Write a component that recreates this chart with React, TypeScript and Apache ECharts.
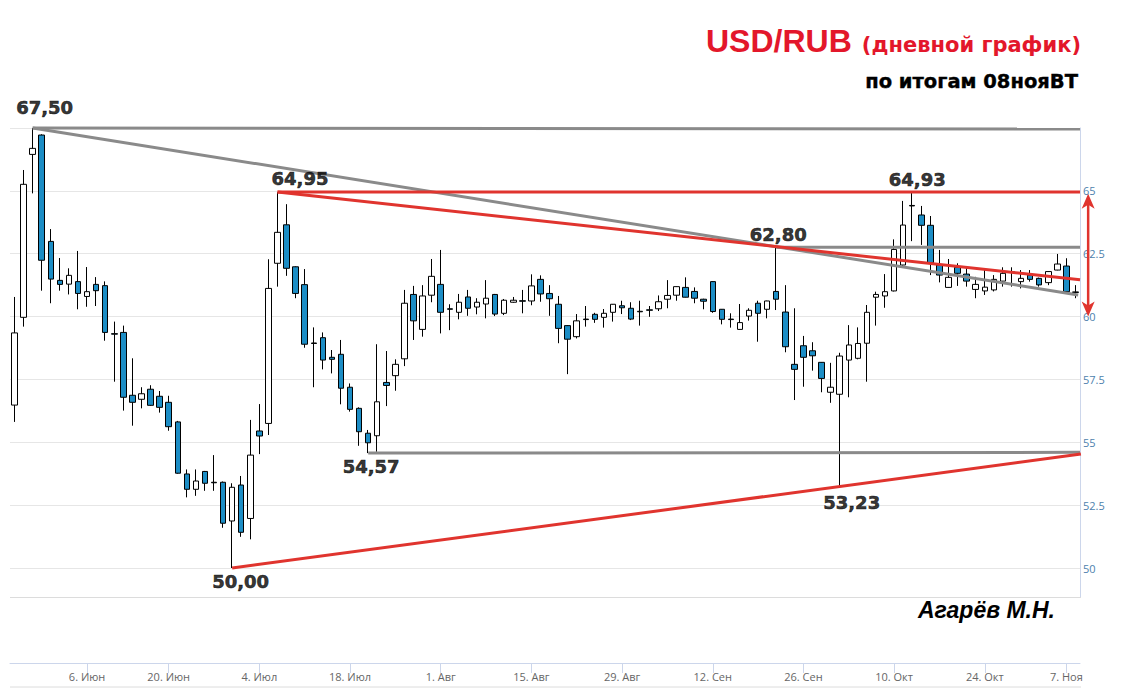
import React, { useEffect, useRef } from "react";
import * as echarts from "echarts";

// Trading days (MOEX), 25 May 2022 – 8 Nov 2022
const dates: string[] = [
  "2022-05-25", "2022-05-26", "2022-05-27", "2022-05-30", "2022-05-31",
  "2022-06-01", "2022-06-02", "2022-06-03", "2022-06-06", "2022-06-07", "2022-06-08", "2022-06-09", "2022-06-10",
  "2022-06-14", "2022-06-15", "2022-06-16", "2022-06-17", "2022-06-20", "2022-06-21", "2022-06-22", "2022-06-23",
  "2022-06-24", "2022-06-27", "2022-06-28", "2022-06-29", "2022-06-30",
  "2022-07-01", "2022-07-04", "2022-07-05", "2022-07-06", "2022-07-07", "2022-07-08", "2022-07-11", "2022-07-12",
  "2022-07-13", "2022-07-14", "2022-07-15", "2022-07-18", "2022-07-19", "2022-07-20", "2022-07-21", "2022-07-22",
  "2022-07-25", "2022-07-26", "2022-07-27", "2022-07-28", "2022-07-29",
  "2022-08-01", "2022-08-02", "2022-08-03", "2022-08-04", "2022-08-05", "2022-08-08", "2022-08-09", "2022-08-10",
  "2022-08-11", "2022-08-12", "2022-08-15", "2022-08-16", "2022-08-17", "2022-08-18", "2022-08-19", "2022-08-22",
  "2022-08-23", "2022-08-24", "2022-08-25", "2022-08-26", "2022-08-29", "2022-08-30", "2022-08-31",
  "2022-09-01", "2022-09-02", "2022-09-05", "2022-09-06", "2022-09-07", "2022-09-08", "2022-09-09", "2022-09-12",
  "2022-09-13", "2022-09-14", "2022-09-15", "2022-09-16", "2022-09-19", "2022-09-20", "2022-09-21", "2022-09-22",
  "2022-09-23", "2022-09-26", "2022-09-27", "2022-09-28", "2022-09-29", "2022-09-30",
  "2022-10-03", "2022-10-04", "2022-10-05", "2022-10-06", "2022-10-07", "2022-10-10", "2022-10-11", "2022-10-12",
  "2022-10-13", "2022-10-14", "2022-10-17", "2022-10-18", "2022-10-19", "2022-10-20", "2022-10-21", "2022-10-24",
  "2022-10-25", "2022-10-26", "2022-10-27", "2022-10-28", "2022-10-31",
  "2022-11-01", "2022-11-02", "2022-11-03", "2022-11-07", "2022-11-08",
];

const tickDates: string[] = [
  "2022-06-06", "2022-06-20", "2022-07-04", "2022-07-18", "2022-08-01", "2022-08-15",
  "2022-08-29", "2022-09-12", "2022-09-26", "2022-10-10", "2022-10-24", "2022-11-07",
];
const monthNames: string[] = ["Янв", "Фев", "Мар", "Апр", "Май", "Июн", "Июл", "Авг", "Сен", "Окт", "Ноя", "Дек"];

// [open, close, low, high]
const candles: number[][] = [
  [56.48, 59.35, 55.81, 60.78], [59.97, 65.26, 59.6, 65.83], [66.45, 66.69, 64.9, 67.5], [67.22, 62.24, 61.03, 67.25],
  [62.99, 61.49, 60.53, 63.48], [61.44, 61.28, 61.03, 62.33], [61.29, 61.64, 60.88, 61.92], [61.39, 60.92, 60.29, 62.61],
  [60.8, 60.99, 60.39, 61.97], [61.28, 61.03, 60.42, 61.57], [61.23, 59.37, 59.04, 61.4], [59.32, 59.3, 57.41, 59.8],
  [59.37, 56.79, 56.26, 59.64], [56.87, 56.59, 55.66, 58.34], [56.71, 56.93, 56.35, 57.19], [57.11, 56.47, 56.45, 57.27],
  [56.83, 56.39, 56.18, 57.04], [56.59, 55.62, 55.46, 56.85], [55.81, 53.77, 53.75, 55.85], [53.74, 53.13, 52.81, 53.92],
  [53.13, 53.46, 52.87, 53.92], [53.84, 53.37, 53.07, 53.86], [53.41, 53.39, 53.07, 54.49], [53.41, 51.78, 51.6, 53.44],
  [51.87, 53.21, 50.0, 53.37], [53.3, 51.42, 51.24, 53.66], [51.97, 54.49, 51.14, 55.89], [55.45, 55.25, 54.53, 56.52],
  [55.75, 61.12, 55.29, 62.28], [62.12, 63.35, 61.19, 64.95], [63.65, 61.92, 61.62, 64.47], [61.98, 60.92, 60.73, 62.0],
  [61.27, 58.9, 58.76, 61.89], [58.95, 58.93, 57.19, 59.57], [59.16, 58.27, 57.9, 59.37], [58.38, 58.3, 57.74, 58.67],
  [58.5, 57.15, 56.51, 59.07], [57.19, 56.31, 56.22, 57.34], [56.35, 55.42, 54.86, 56.39], [55.36, 54.98, 54.57, 55.49],
  [55.26, 56.61, 54.62, 58.9], [57.38, 57.26, 56.44, 58.63], [57.65, 58.1, 57.05, 58.3], [58.32, 60.53, 58.03, 61.06],
  [60.88, 59.83, 59.07, 61.22], [59.49, 60.82, 59.2, 61.25], [60.85, 61.6, 60.57, 62.29], [61.28, 60.17, 59.33, 62.65],
  [60.31, 60.29, 59.46, 60.49], [60.17, 60.57, 59.89, 60.9], [60.78, 60.33, 60.03, 61.06], [60.38, 60.57, 60.09, 60.73],
  [60.5, 60.73, 59.93, 61.45], [60.88, 60.1, 60.02, 60.9], [60.13, 60.65, 60.06, 60.7], [60.57, 60.65, 60.55, 60.78],
  [60.63, 60.61, 60.13, 61.06], [60.62, 61.22, 60.45, 61.68], [61.48, 60.9, 60.59, 61.64], [60.92, 60.71, 60.03, 61.25],
  [60.49, 59.53, 58.94, 60.82], [59.64, 59.1, 57.71, 59.66], [59.2, 59.83, 59.13, 60.1], [59.9, 59.88, 59.6, 60.42],
  [60.09, 59.89, 59.75, 60.15], [59.97, 60.13, 59.56, 60.3], [60.17, 60.49, 59.8, 60.5], [60.43, 60.35, 60.1, 60.63],
  [60.33, 59.9, 59.86, 60.57], [60.21, 60.19, 59.64, 60.63], [60.27, 60.25, 59.99, 60.42], [60.31, 60.59, 60.22, 60.84],
  [60.69, 60.84, 60.33, 61.45], [60.85, 61.19, 60.63, 61.2], [61.16, 60.77, 60.76, 61.56], [61.0, 60.73, 60.53, 61.16],
  [60.69, 60.61, 60.29, 60.71], [61.39, 60.2, 60.15, 61.4], [60.29, 59.89, 59.69, 60.3], [59.9, 59.88, 59.56, 60.13],
  [59.49, 59.76, 59.48, 60.5], [60.02, 60.25, 59.84, 60.33], [60.53, 60.13, 59.0, 60.63], [60.29, 60.62, 59.93, 60.63],
  [61.0, 60.69, 60.26, 62.8], [60.18, 58.8, 58.58, 61.25], [58.1, 57.9, 56.68, 60.33], [58.84, 58.38, 57.21, 59.23],
  [58.64, 58.44, 57.85, 58.98], [58.18, 57.54, 56.99, 58.19], [56.99, 57.19, 56.57, 58.16], [56.91, 58.43, 53.23, 58.56],
  [58.27, 58.87, 56.79, 59.66], [58.34, 58.93, 58.3, 59.57], [58.94, 60.17, 57.41, 60.46], [60.77, 60.88, 59.64, 60.99],
  [60.82, 60.99, 60.35, 61.69], [61.02, 62.67, 61.0, 63.07], [62.05, 63.64, 62.0, 64.6], [64.42, 64.4, 63.0, 64.93],
  [64.04, 63.63, 62.85, 64.4], [63.63, 62.14, 61.65, 64.0], [62.05, 61.65, 61.36, 62.65], [61.16, 61.56, 61.15, 62.29],
  [61.96, 61.72, 61.22, 62.12], [61.69, 61.41, 61.19, 61.96], [61.08, 61.28, 60.73, 61.58], [61.02, 61.17, 60.86, 61.92],
  [61.06, 61.48, 61.0, 61.65], [61.41, 61.72, 61.19, 61.96], [61.78, 61.76, 61.19, 61.96], [61.39, 61.52, 61.12, 61.85],
  [61.65, 61.48, 61.39, 61.85], [61.52, 61.26, 61.19, 61.55], [61.35, 61.79, 61.25, 61.8], [61.85, 62.09, 61.84, 62.49],
  [62.01, 60.99, 60.9, 62.32], [60.98, 60.96, 60.73, 61.25],
];

// Trend lines: [[index, value], [index, value]]
const topLine: number[][] = [[2, 67.5], [117.5, 67.46]];
const greyLines: number[][][] = [
  [[2, 67.5], [117.3, 60.86]],
  [[84, 62.76], [117.5, 62.76]],
  [[39, 54.57], [117.5, 54.6]],
];
const redLines: number[][][] = [
  [[29, 64.95], [117.5, 64.95]],
  [[29, 64.95], [117.5, 61.46]],
  [[24, 50.0], [117.6, 54.53]],
];
// range arrow between 65 and 60 (tips)
const rangeArrow: number[][] = [[118.4, 64.88], [118.4, 60.0]];

// Marked extremes
const extremeIdx: number[] = [2, 29, 39, 24, 84, 99, 91];
const extremeValues: number[] = [67.5, 64.95, 54.57, 50.0, 62.8, 64.93, 53.23];
const extremeLabelOffsets: number[][] = [
  [12, -20.5], [22.5, -14], [3, 13.5], [8.5, 13], [2, -12], [5, -13.5], [12, 15.5],
];

const RED = "#e0342e";
const GREY = "#8a8a8a";

function fmtDate(v: string): string {
  const [, m, d] = v.split("-");
  return `${parseInt(d, 10)}. ${monthNames[parseInt(m, 10) - 1]}`;
}

export default function App() {
  const ref = useRef<HTMLDivElement>(null);
  useEffect(() => {
    if (!ref.current) return;
    const chart = echarts.init(ref.current, undefined, { renderer: "svg" });
    const isTick = (_i: number, v: string) => tickDates.includes(v);

    const lineSeries = (pts: number[][], color: string) => ({
      type: "line",
      xAxisIndex: 1,
      yAxisIndex: 0,
      data: pts,
      symbol: "none",
      lineStyle: { color, width: 3 },
      z: 4,
      clip: false,
      silent: true,
    });

    const baseGraphic: any[] = [
      { type: "line", silent: true, shape: { x1: 10, y1: 597.5, x2: 1081, y2: 597.5 }, style: { stroke: "#dcdcdc", lineWidth: 1 } },
      { type: "line", silent: true, shape: { x1: 1080.5, y1: 568, x2: 1080.5, y2: 597 }, style: { stroke: "#ccd6eb", lineWidth: 1 } },
      { type: "line", silent: true, shape: { x1: 10, y1: 687, x2: 1081, y2: 687 }, style: { stroke: "#dcdcdc", lineWidth: 1 } },
      {
        type: "text", x: 706, y: 41, silent: true,
        style: { text: "USD/RUB", font: 'bold 32px "Liberation Sans", Arial, sans-serif', fill: "#e3172b",
          align: "left", textAlign: "left", verticalAlign: "middle", textVerticalAlign: "middle" },
      },
      {
        type: "text", x: 1081, y: 44.5, silent: true,
        style: { text: "(дневной график)", font: 'bold 21px "DejaVu Sans", sans-serif', fill: "#e3172b",
          align: "right", textAlign: "right", verticalAlign: "middle", textVerticalAlign: "middle" },
      },
      {
        type: "text", x: 1078, y: 81.3, silent: true,
        style: { text: "по итогам 08нояВТ", font: 'bold 19.5px "DejaVu Sans", sans-serif', fill: "#000000",
          stroke: "#000000", lineWidth: 0.4,
          align: "right", textAlign: "right", verticalAlign: "middle", textVerticalAlign: "middle" },
      },
      {
        type: "text", x: 1055, y: 610, silent: true,
        style: { text: "Агарёв М.Н.", font: 'italic bold 23px "Liberation Sans", Arial, sans-serif', fill: "#000000",
          align: "right", textAlign: "right", verticalAlign: "middle", textVerticalAlign: "middle" },
      },
    ];

    const option: any = {
      animation: false,
      backgroundColor: "#ffffff",
      grid: { left: 10, right: 48, top: 128, height: 440 },
      xAxis: [
        {
          type: "category",
          data: dates,
          boundaryGap: true,
          position: "bottom",
          offset: 95,
          axisLine: { show: true, onZero: false, lineStyle: { color: "#ccd6eb" } },
          axisTick: { show: true, alignWithLabel: true, interval: isTick, length: 10, lineStyle: { color: "#ccd6eb" } },
          axisLabel: {
            interval: isTick,
            formatter: fmtDate,
            color: "#666666",
            fontSize: 11,
            fontFamily: "Open Sans",
            margin: 8,
          },
          splitLine: { show: false },
        },
        { type: "value", min: -0.5, max: 117.5, show: false },
      ],
      yAxis: {
        type: "value",
        position: "right",
        min: 50,
        max: 67.5,
        interval: 2.5,
        axisLine: { show: true, onZero: false, lineStyle: { color: "#ccd6eb" } },
        axisTick: { show: false },
        axisLabel: {
          color: "#4d7fad",
          fontSize: 11,
          fontFamily: "Open Sans",
          margin: 3,
          formatter: (v: number) => (v >= 67.5 ? "" : String(v)),
        },
        splitLine: { lineStyle: { color: "#e6e6e6" } },
      },
      series: [
        {
          type: "candlestick",
          data: candles,
          barWidth: 6,
          z: 2,
          itemStyle: {
            color: "#ffffff",
            color0: "#1c8dc5",
            borderColor: "#000000",
            borderColor0: "#000000",
            borderWidth: 1,
          },
        },
        ...greyLines.map((p) => lineSeries(p, GREY)),
        ...redLines.map((p) => lineSeries(p, RED)),
        {
          type: "scatter",
          xAxisIndex: 1,
          yAxisIndex: 0,
          clip: false,
          z: 6,
          symbolSize: 1,
          itemStyle: { color: "transparent" },
          data: extremeIdx.map((x, k) => ({
            value: [x, extremeValues[k]],
            label: { offset: extremeLabelOffsets[k] },
          })),
          label: {
            show: true,
            position: "inside",
            formatter: (p: any) => p.value[1].toFixed(2).replace(".", ","),
            fontFamily: "DejaVu Sans",
            fontWeight: "bold",
            fontSize: 18,
            color: "#000000",
            textBorderColor: "#000000",
            textBorderWidth: 0.6,
          },
        },
      ],
      graphic: baseGraphic,
    };
    chart.setOption(option);

    // top resistance line and range arrow, placed through the chart's own scales
    const toPx = (p: number[]) => chart.convertToPixel({ xAxisIndex: 1, yAxisIndex: 0 }, p) as number[];
    const t0 = toPx(topLine[0]);
    const t1 = toPx(topLine[1]);
    const top = toPx(rangeArrow[0]);
    const bot = toPx(rangeArrow[1]);
    if (top && bot && t0 && t1) {
      const x = top[0];
      const w = 6.5;
      const h = 15;
      const notch = 4;
      chart.setOption({
        graphic: [
          ...baseGraphic,
          { type: "line", silent: true, z: 10, shape: { x1: t0[0], y1: t0[1], x2: t1[0], y2: t1[1] }, style: { stroke: GREY, lineWidth: 3 } },
          { type: "line", silent: true, z: 10, shape: { x1: x, y1: top[1] + 6, x2: x, y2: bot[1] - 6 }, style: { stroke: RED, lineWidth: 2.5 } },
          { type: "polygon", silent: true, z: 10, shape: { points: [[x, top[1]], [x + w, top[1] + h], [x, top[1] + h - notch], [x - w, top[1] + h]] }, style: { fill: RED } },
          { type: "polygon", silent: true, z: 10, shape: { points: [[x, bot[1]], [x + w, bot[1] - h], [x, bot[1] - h + notch], [x - w, bot[1] - h]] }, style: { fill: RED } },
        ],
      });
    }
    return () => chart.dispose();
  }, []);
  return (
    <div
      ref={ref}
      style={{ position: "fixed", left: 0, top: 0, width: 1128, height: 688, background: "#fff" }}
    />
  );
}
